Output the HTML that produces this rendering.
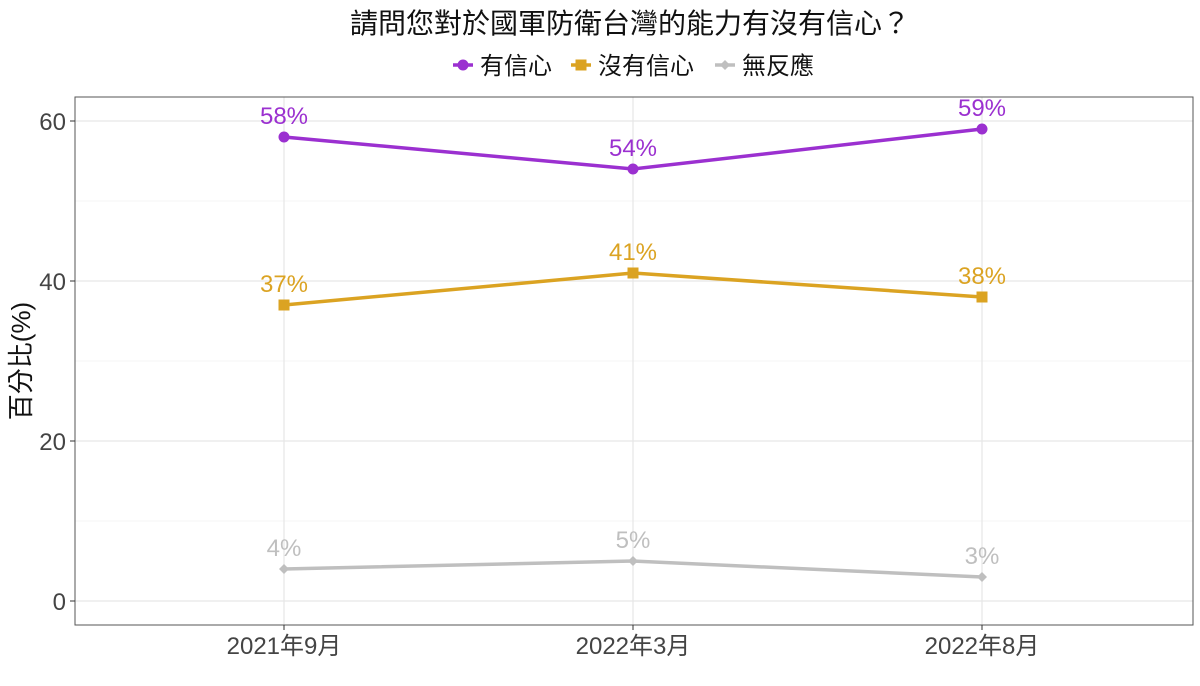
<!DOCTYPE html>
<html><head><meta charset="utf-8"><style>
body{margin:0;background:#fff;}
svg text{font-family:"Liberation Sans","Noto Sans CJK TC",sans-serif;}
</style></head><body>
<svg id="chart" width="1200" height="681" viewBox="0 0 1200 681" xmlns="http://www.w3.org/2000/svg">
<rect width="1200" height="681" fill="#fff"/>
<text x="630" y="33" font-size="28" text-anchor="middle" fill="#111">請問您對於國軍防衛台灣的能力有沒有信心？</text>
<g id="legend"></g>
<g id="grid"></g>
<rect x="75" y="97" width="1118" height="528" fill="none" stroke="#555" stroke-width="1"/>
<g id="series"></g>
<text transform="translate(30,361) rotate(-90)" font-size="26" text-anchor="middle" fill="#111">百分比(%)</text>
</svg>
<script>
const categories=["2021年9月","2022年3月","2022年8月"];
const seriesNames=["有信心","沒有信心","無反應"];
const confident=[58,54,59];
const notConfident=[37,41,38];
const noResponse=[4,5,3];
const yTicks=[0,20,40,60];
const NS="http://www.w3.org/2000/svg";
const svg=document.getElementById('chart');
function x(i){return 284+i*349;}
function y(v){return 601-v*8;}
function mk(tag,attrs,parent){const e=document.createElementNS(NS,tag);for(const k in attrs)e.setAttribute(k,attrs[k]);parent.appendChild(e);return e;}
const grid=document.getElementById('grid');
for(let v=0;v<=70;v+=10){if(y(v)<97)continue;
 const l=mk('line',{x1:75,x2:1193,y1:y(v),y2:y(v),stroke:v%20==0?'#e6e6e6':'#f2f2f2','stroke-width':v%20==0?1.2:0.8},grid);
 
 }
yTicks.forEach(v=>{const t=mk('text',{x:66,y:y(v)+9,'font-size':24,'text-anchor':'end',fill:'#444'},svg);t.textContent=v;
 
 
 mk('line',{x1:70,x2:75,y1:y(v),y2:y(v),stroke:'#333'},svg);});
categories.forEach((c,i)=>{const g=mk('line',{x1:x(i),x2:x(i),y1:97,y2:625,stroke:'#e6e6e6','stroke-width':1.2},grid);
 
 
 mk('line',{x1:x(i),x2:x(i),y1:625,y2:630,stroke:'#333'},svg);
 const t=mk('text',{x:x(i),y:654,'font-size':24,'text-anchor':'middle',fill:'#444'},svg);t.textContent=c;
 
 });
const ser=document.getElementById('series');
const defs=[[confident,'#9b30d0','circle'],[notConfident,'#dba322','square'],[noResponse,'#bfbfbf','diamond']];
function marker(shape,cx,cy,col,s,p){
 if(shape=='circle')return mk('circle',{cx,cy,r:s,fill:col},p);
 if(shape=='square')return mk('rect',{x:cx-s,y:cy-s,width:2*s,height:2*s,fill:col},p);
 return mk('polygon',{points:`${cx},${cy-s} ${cx+s},${cy} ${cx},${cy+s} ${cx-s},${cy}`,fill:col},p);}
defs.forEach(([vals,col,shape],si)=>{
 const g=mk('g',{},ser);
 
 
 const pl=mk('polyline',{points:vals.map((v,i)=>x(i)+','+y(v)).join(' '),fill:'none',stroke:col,'stroke-width':3.5},g);
 
 
 vals.forEach((v,i)=>{const m=marker(shape,x(i),y(v),col,shape=='diamond'?5:5.5,g);
  
  
  const t=mk('text',{x:x(i),y:y(v)-13,'font-size':24,'text-anchor':'middle',fill:col},g);t.textContent=v+'%';
  
  });
});
const lg=document.getElementById('legend');
const lx=[453,571,715];
defs.forEach(([vals,col,shape],si)=>{const g=mk('g',{},lg);
 
 
 mk('line',{x1:lx[si],x2:lx[si]+20,y1:65,y2:65,stroke:col,'stroke-width':3.5},g);
 marker(shape,lx[si]+10,65,col,shape=='diamond'?5:5.5,g);
 const t=mk('text',{x:lx[si]+27,y:74,'font-size':24,fill:'#111'},g);t.textContent=seriesNames[si];});
</script>
</body></html>
